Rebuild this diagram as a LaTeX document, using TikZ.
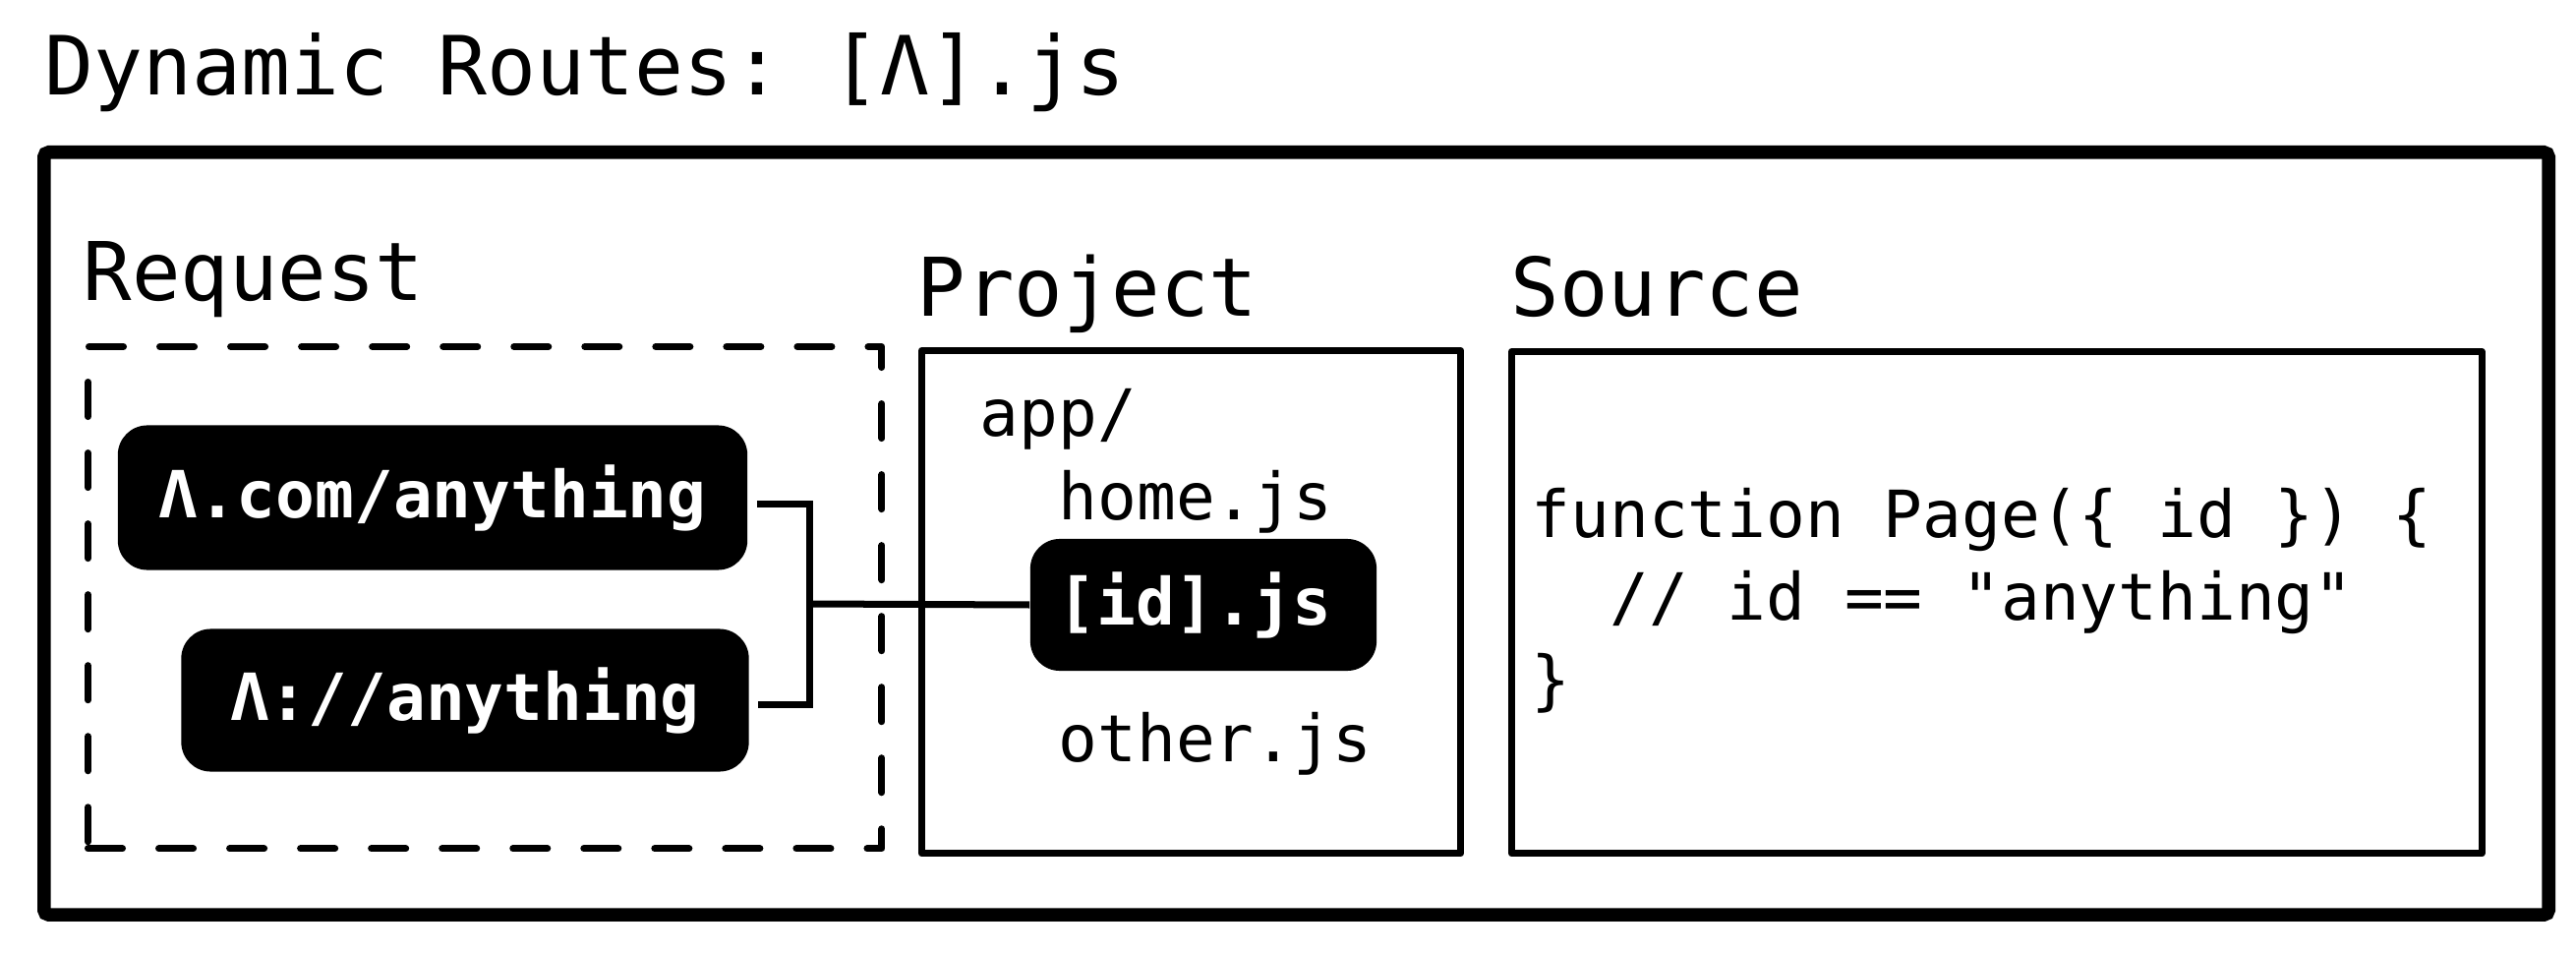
\documentclass[tikz,border=0pt]{standalone}
\usepackage{fontspec}
\setmonofont{DejaVu Sans Mono}
\usetikzlibrary{positioning}

\newcommand{\codesize}{\ttfamily\fontsize{18.8}{23.9}\selectfont}
\newcommand{\pillsize}{\ttfamily\bfseries\fontsize{18.8}{23.9}\selectfont}
\newcommand{\headsize}{\ttfamily\fontsize{23.4}{28}\selectfont}
\newcommand{\titlesize}{\ttfamily\fontsize{23.6}{28}\selectfont}

\begin{document}
\begin{tikzpicture}[x=0.01cm, y=-0.01cm,
	frame/.style={draw, line width=0.135cm, rounded corners=0.05cm, inner sep=0, anchor=north west},
	panel/.style={draw, line width=0.07cm, line join=round, inner sep=0, anchor=north west},
	dashpanel/.style={panel, line cap=round, dash pattern=on 0.35cm off 0.37cm},
	pill/.style={fill=black, text=white, rounded corners=0.3cm, font=\pillsize, inner sep=0},
	link/.style={line width=0.07cm},
	heading/.style={anchor=base west, inner sep=0, font=\headsize},
	entry/.style={anchor=base west, inner sep=0, font=\codesize}]
	\useasboundingbox (0,0) rectangle (2620,970);
	
	% title and frame
	\node[anchor=base west, inner sep=0, font=\titlesize] (title) at (45,97) {Dynamic Routes: [Λ].js};
	\node[frame, minimum width=25.46cm, minimum height=7.75cm] (outer) at (38,148) {};
	
	% the three panels
	\node[heading] (reqlabel) at (84,306) {Request};
	\node[heading] (projlabel) at (932,322) {Project};
	\node[heading] (srclabel) at (1536,322) {Source};
	\node[dashpanel, minimum width=8.07cm, minimum height=5.10cm] (reqbox) at (86,349) {};
	\node[panel, minimum width=5.48cm, minimum height=5.11cm] (projbox) at (934,353) {};
	\node[panel, minimum width=9.86cm, minimum height=5.10cm] (srcbox) at (1534,354) {};
	
	% requests
	\node[pill, minimum width=6.40cm, minimum height=1.47cm] (req1) at (440,506) {Λ.com/anything};
	\node[pill, minimum width=5.77cm, minimum height=1.45cm] (req2) at (473,712) {Λ://anything};
	
	% project tree
	\node[entry] (app) at (996,443) {app/};
	\node[entry] (home) at (1076,528) {home.js};
	\node[pill, minimum width=3.52cm, minimum height=1.34cm, text width=2.96cm, align=left] (dyn) at (1224,615) {[id].js};
	\node[entry] (other) at (1076,774) {other.js};
	
	% connectors
	\coordinate (jn) at (823,614);
	\draw[link] ([xshift=0.09cm, yshift=-0.06cm]req1.east) -| (jn);
	\draw[link] ([xshift=0.09cm, yshift=-0.04cm]req2.east) -| (jn);
	\draw[link] (jn) -- (dyn.west);
	
	% source code
	\node[anchor=west, align=left, inner sep=0, font=\codesize] (code) at (1557,611) {function Page(\{ id \}) \{\\\phantom{xx}// id == "anything"\\\}};
\end{tikzpicture}
\end{document}
